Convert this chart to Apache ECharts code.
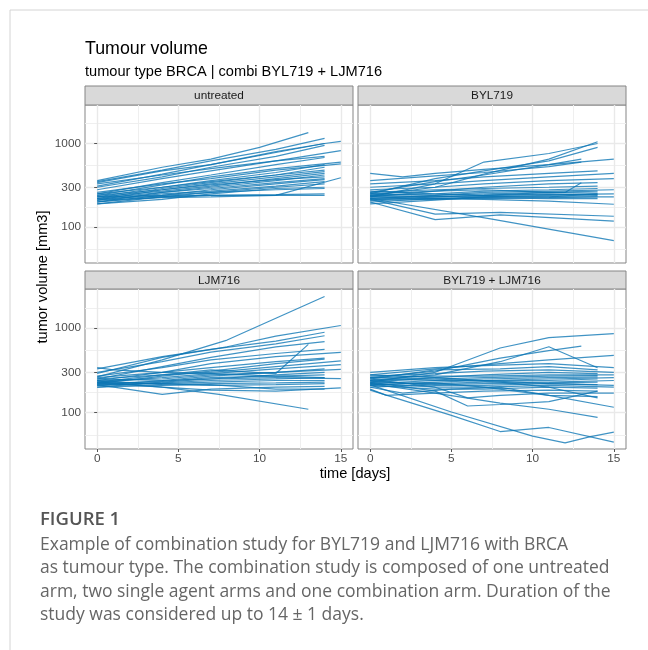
<!DOCTYPE html>
<html>
<head>
<meta charset="utf-8">
<script src="https://cdn.jsdelivr.net/npm/echarts@6/dist/echarts.min.js"></script>
<style>
  html, body { margin: 0; padding: 0; background: #fff; }
  #chart { width: 648px; height: 650px; }
</style>
</head>
<body>
<div id="chart"></div>
<script>
// facet labels and breaks
const panelNames = ['untreated', 'BYL719', 'LJM716', 'BYL719 + LJM716'];
const xBreaks = [0, 5, 10, 15];
const xMinorBreaks = [2.5, 7.5, 12.5];
const yBreaks = [30, 100, 300, 1000, 3000];

// one entry per mouse: [day, tumour volume mm3]
const untreated = [
  [[0, 360], [4, 520], [7, 650], [10, 900], [13, 1350]],
  [[0, 350], [4, 480], [7, 620], [11, 850], [14, 1150]],
  [[0, 340], [4, 470], [7, 560], [11, 780], [14, 1000], [15, 1060]],
  [[0, 310], [4, 430], [7, 560], [11, 800], [14, 1000]],
  [[0, 300], [4, 400], [7, 520], [11, 700], [14, 950]],
  [[0, 280], [4, 380], [7, 470], [11, 620], [15, 820]],
  [[0, 330], [4, 420], [7, 500], [11, 620], [14, 700]],
  [[0, 250], [4, 340], [7, 420], [11, 560], [14, 680]],
  [[0, 240], [4, 320], [7, 400], [11, 500], [15, 600]],
  [[0, 260], [4, 330], [7, 380], [11, 480], [15, 570]],
  [[0, 230], [4, 300], [7, 360], [11, 450], [14, 560]],
  [[0, 220], [4, 290], [7, 340], [11, 420], [14, 520]],
  [[0, 250], [4, 300], [7, 350], [11, 420], [14, 480]],
  [[0, 210], [4, 280], [7, 330], [11, 400], [14, 460]],
  [[0, 230], [4, 270], [7, 310], [11, 380], [14, 440]],
  [[0, 200], [4, 260], [7, 300], [11, 360], [14, 420]],
  [[0, 240], [4, 280], [7, 320], [11, 370], [14, 400]],
  [[0, 220], [4, 260], [7, 290], [11, 340], [14, 380]],
  [[0, 200], [4, 240], [7, 280], [11, 330], [14, 370]],
  [[0, 210], [4, 250], [7, 270], [11, 310], [14, 350]],
  [[0, 190], [4, 230], [7, 260], [11, 300], [14, 330]],
  [[0, 230], [4, 240], [7, 260], [11, 280], [14, 290]],
  [[0, 220], [4, 235], [7, 240], [11, 245], [14, 250]],
  [[0, 210], [4, 225], [7, 230], [11, 240], [15, 390]],
  [[0, 200], [4, 230], [7, 240], [11, 240], [14, 240]],
  [[0, 190], [4, 215], [7, 250], [11, 290], [14, 300]]
];

const byl719 = [
  [[0, 240], [4, 300], [7, 430], [11, 650], [14, 1050]],
  [[0, 230], [4, 330], [7, 600], [11, 760], [14, 1000]],
  [[0, 250], [4, 380], [7, 470], [11, 620], [14, 900]],
  [[0, 260], [4, 350], [7, 420], [11, 560], [13, 650]],
  [[0, 440], [2, 400], [4, 440], [7, 490], [11, 560], [15, 650]],
  [[0, 360], [4, 410], [7, 450], [11, 530], [13, 600]],
  [[0, 330], [4, 360], [7, 400], [11, 440], [14, 470]],
  [[0, 300], [4, 330], [7, 360], [11, 400], [15, 440]],
  [[0, 280], [4, 300], [7, 330], [11, 360], [15, 380]],
  [[0, 230], [4, 270], [7, 300], [11, 330], [14, 340]],
  [[0, 250], [4, 270], [7, 280], [11, 260], [12, 260], [13, 340]],
  [[0, 260], [4, 280], [7, 290], [11, 300], [14, 310]],
  [[0, 240], [4, 250], [7, 270], [11, 280], [14, 290]],
  [[0, 220], [4, 240], [7, 260], [11, 270], [15, 280]],
  [[0, 210], [4, 230], [7, 240], [11, 260], [14, 270]],
  [[0, 250], [4, 240], [7, 250], [11, 260], [14, 255]],
  [[0, 230], [4, 230], [7, 240], [11, 245], [15, 250]],
  [[0, 200], [4, 220], [7, 230], [11, 240], [14, 245]],
  [[0, 270], [4, 250], [7, 240], [11, 250], [14, 240]],
  [[0, 240], [4, 230], [7, 230], [11, 230], [15, 230]],
  [[0, 220], [4, 220], [7, 220], [11, 225], [14, 230]],
  [[0, 210], [4, 215], [7, 225], [11, 220], [14, 220]],
  [[0, 230], [4, 220], [7, 215], [11, 205], [15, 188]],
  [[0, 215], [4, 143], [8, 150], [15, 135]],
  [[0, 200], [4, 123], [8, 140], [15, 118]],
  [[0, 220], [7.5, 125], [15, 69]],
  [[0, 190], [4, 210], [7, 230], [11, 230], [14, 250]]
];

const ljm716 = [
  [[0, 265], [4, 420], [8, 720], [11, 1300], [14, 2350]],
  [[0, 290], [4, 450], [8, 600], [11, 800], [15, 1070]],
  [[0, 330], [4, 460], [7, 560], [11, 700], [14, 890]],
  [[0, 300], [4, 400], [7, 520], [11, 650], [14, 810]],
  [[0, 250], [4, 350], [7, 450], [11, 600], [14, 690]],
  [[0, 270], [4, 340], [7, 420], [11, 500], [14, 560]],
  [[0, 240], [4, 300], [7, 380], [11, 460], [15, 515]],
  [[0, 230], [4, 280], [7, 320], [11, 290], [13, 640]],
  [[0, 260], [4, 300], [7, 340], [11, 400], [14, 440]],
  [[0, 220], [4, 270], [7, 310], [11, 380], [14, 430]],
  [[0, 250], [4, 280], [7, 300], [11, 350], [15, 410]],
  [[0, 230], [4, 260], [7, 290], [11, 330], [15, 370]],
  [[0, 210], [4, 240], [7, 270], [11, 300], [14, 330]],
  [[0, 240], [4, 250], [7, 280], [11, 300], [15, 325]],
  [[0, 200], [4, 230], [7, 250], [11, 280], [14, 300]],
  [[0, 220], [4, 235], [7, 260], [11, 270], [14, 280]],
  [[0, 250], [4, 240], [7, 250], [11, 260], [15, 253]],
  [[0, 215], [4, 225], [7, 240], [11, 250], [14, 260]],
  [[0, 230], [4, 220], [7, 230], [11, 240], [14, 240]],
  [[0, 200], [4, 210], [7, 220], [11, 225], [14, 230]],
  [[0, 240], [4, 215], [7, 210], [11, 215], [14, 220]],
  [[0, 215], [4, 165], [7, 190], [11, 200], [14, 205]],
  [[0, 225], [4, 200], [7, 185], [11, 180], [15, 196]],
  [[0, 230], [4, 200], [7.5, 165], [13, 110]],
  [[0, 340], [1, 320], [4, 300], [7, 290], [11, 270], [14, 260]],
  [[0, 210], [4, 220], [7, 215], [11, 190], [14, 190]]
];

const combi = [
  [[0, 230], [4, 300], [8, 580], [11, 770], [15, 860]],
  [[0, 260], [4, 310], [8, 440], [11, 540], [13, 610]],
  [[0, 240], [4, 280], [8, 400], [11, 600], [14, 340]],
  [[0, 280], [4, 330], [8, 380], [11, 420], [15, 474]],
  [[0, 300], [4, 340], [7, 360], [11, 380], [15, 340]],
  [[0, 250], [4, 320], [8, 330], [11, 350], [14, 320]],
  [[0, 270], [4, 290], [7, 310], [11, 320], [15, 300]],
  [[0, 230], [4, 260], [7, 280], [11, 300], [14, 290]],
  [[0, 260], [4, 270], [7, 270], [11, 280], [15, 280]],
  [[0, 240], [4, 250], [7, 260], [11, 270], [14, 275]],
  [[0, 220], [4, 240], [7, 250], [11, 260], [14, 265]],
  [[0, 250], [4, 240], [7, 240], [11, 250], [15, 260]],
  [[0, 210], [4, 230], [7, 240], [11, 240], [14, 250]],
  [[0, 230], [4, 220], [7, 230], [11, 230], [15, 240]],
  [[0, 200], [4, 215], [7, 220], [11, 225], [14, 230]],
  [[0, 240], [4, 210], [7, 210], [11, 220], [14, 215]],
  [[0, 220], [4, 200], [7, 200], [11, 210], [15, 200]],
  [[0, 210], [4, 190], [7, 190], [11, 200], [14, 195]],
  [[0, 190], [1, 160], [4, 170], [7, 180], [11, 185], [14, 180]],
  [[0, 250], [4, 200], [6, 150], [8, 160], [11, 170], [15, 170]],
  [[0, 230], [4, 180], [6, 120], [8, 125], [11, 135], [14, 180]],
  [[0, 220], [4, 170], [8, 130], [11, 110], [14, 88]],
  [[0, 185], [5, 93], [8, 60], [11, 67], [15, 45]],
  [[0, 213], [5, 102], [10, 53], [12, 44], [13.5, 52], [15, 59]],
  [[0, 200], [2, 170], [5, 190], [8, 200], [11, 160], [15, 116]],
  [[0, 280], [4, 260], [7, 240], [11, 220], [15, 210]],
  [[0, 260], [4, 250], [8, 230], [11, 200], [14, 150]],
  [[0, 215], [4, 225], [7, 200], [11, 160], [14, 155]]
];

const arms = [untreated, byl719, ljm716, combi];

const captionTitle = 'FIGURE 1';
const captionText = [
  'Example of combination study for BYL719 and LJM716 with BRCA',
  'as tumour type. The combination study is composed of one untreated',
  'arm, two single agent arms and one combination arm. Duration of the',
  'study was considered up to 14 \u00b1 1 days.'
];

const FONT = 'Liberation Sans, Arial, sans-serif';
const CAPTION_FONT = '"Open Sans", Lato, sans-serif';
const LINE = 'rgba(10, 116, 180, 0.78)';

// panel layout (ggplot facet_wrap 2x2)
const panels = [
  { left: 85, top: 105, stripTop: 86, height: 158, col: 0, row: 0 },
  { left: 358, top: 105, stripTop: 86, height: 158, col: 1, row: 0 },
  { left: 85, top: 289, stripTop: 271, height: 160, col: 0, row: 1 },
  { left: 358, top: 289, stripTop: 271, height: 160, col: 1, row: 1 }
];
const panelWidth = 268;

const yMajor = yBreaks.map((v) => Math.log10(v));
const yMinor = yMajor.slice(1).map((v, i) => (v + yMajor[i]) / 2);
const yMin = 1.572;
const yMax = 3.46;
const xMin = -0.75;
const xMax = 15.75;

const grids = [];
const xAxes = [];
const yAxes = [];
const series = [];
const graphics = [];

panels.forEach((p, i) => {
  grids.push({
    left: p.left, top: p.top, width: panelWidth, height: p.height,
    show: true, backgroundColor: '#fff', borderColor: '#858585', borderWidth: 1
  });
  const showX = p.row === 1;
  const showY = p.col === 0;
  // major x
  xAxes.push({
    type: 'value', gridIndex: i, min: xMin, max: xMax,
    axisLine: { show: false },
    axisTick: { show: showX, length: 3, lineStyle: { color: '#555' }, customValues: xBreaks },
    axisLabel: { show: showX, customValues: xBreaks, color: '#4d4d4d', fontSize: 11.8, fontFamily: FONT, margin: 4 },
    splitLine: { show: true, lineStyle: { color: '#e9e9e9', width: 1.4 } }
  });
  // minor x
  xAxes.push({
    type: 'value', gridIndex: i, min: xMin, max: xMax,
    axisLine: { show: false },
    axisTick: { show: false, customValues: xMinorBreaks },
    axisLabel: { show: false },
    splitLine: { show: true, lineStyle: { color: '#efefef', width: 1 } }
  });
  yAxes.push({
    type: 'value', gridIndex: i, min: yMin, max: yMax,
    axisLine: { show: false },
    axisTick: { show: showY, length: 3, lineStyle: { color: '#555' }, customValues: yMajor },
    axisLabel: {
      show: showY, customValues: yMajor, color: '#4d4d4d', fontSize: 11.8, fontFamily: FONT, margin: 4,
      formatter: (v) => String(Math.round(Math.pow(10, v)))
    },
    splitLine: { show: true, lineStyle: { color: '#e9e9e9', width: 1.4 } }
  });
  yAxes.push({
    type: 'value', gridIndex: i, min: yMin, max: yMax,
    axisLine: { show: false },
    axisTick: { show: false, customValues: yMinor },
    axisLabel: { show: false },
    splitLine: { show: true, lineStyle: { color: '#efefef', width: 1 } }
  });

  arms[i].forEach((mouse) => {
    series.push({
      type: 'line',
      xAxisIndex: i * 2,
      yAxisIndex: i * 2,
      data: mouse.map((d) => [d[0], Math.log10(d[1])]),
      symbol: 'none',
      silent: true,
      lineStyle: { color: LINE, width: 1.2 },
      z: 3
    });
  });

  // facet strip
  graphics.push({
    type: 'rect',
    shape: { x: p.left, y: p.stripTop, width: panelWidth, height: p.top - p.stripTop },
    style: { fill: '#d9d9d9', stroke: '#858585', lineWidth: 1 }
  });
  graphics.push({
    type: 'text',
    x: p.left + panelWidth / 2,
    y: (p.stripTop + p.top) / 2 + 0.5,
    style: {
      text: panelNames[i], fill: '#1a1a1a', font: '11.8px ' + FONT,
      align: 'center', verticalAlign: 'middle'
    }
  });
});

// outer frame, titles, axis titles, caption
graphics.push(
  { type: 'polyline', shape: { points: [[10, 650], [10, 10], [648, 10]] }, style: { stroke: '#d4d4d4', lineWidth: 1, fill: null } },
  { type: 'text', x: 85, y: 49, style: { text: 'Tumour volume', fill: '#000', font: '17.8px ' + FONT, verticalAlign: 'middle' } },
  { type: 'text', x: 85, y: 72, style: { text: 'tumour type BRCA | combi BYL719 + LJM716', fill: '#000', font: '14.6px ' + FONT, verticalAlign: 'middle' } },
  {
    type: 'text', x: 43, y: 277, rotation: Math.PI / 2,
    style: { text: 'tumor volume [mm3]', fill: '#000', font: '14.6px ' + FONT, align: 'center', verticalAlign: 'middle' }
  },
  { type: 'text', x: 355, y: 474, style: { text: 'time [days]', fill: '#000', font: '14.6px ' + FONT, align: 'center', verticalAlign: 'middle' } },
  { type: 'text', x: 40, y: 520, style: { text: captionTitle, fill: '#555', font: '600 18.5px ' + CAPTION_FONT, verticalAlign: 'middle' } },
  { type: 'text', x: 40, y: 533, style: { text: captionText.join('\n'), fill: '#666', font: '17.5px ' + CAPTION_FONT, lineHeight: 23.5, verticalAlign: 'top' } }
);

const chart = echarts.init(document.getElementById('chart'));
chart.setOption({
  animation: false,
  backgroundColor: '#fff',
  grid: grids,
  xAxis: xAxes,
  yAxis: yAxes,
  series: series,
  graphic: { elements: graphics }
});
</script>
</body>
</html>
